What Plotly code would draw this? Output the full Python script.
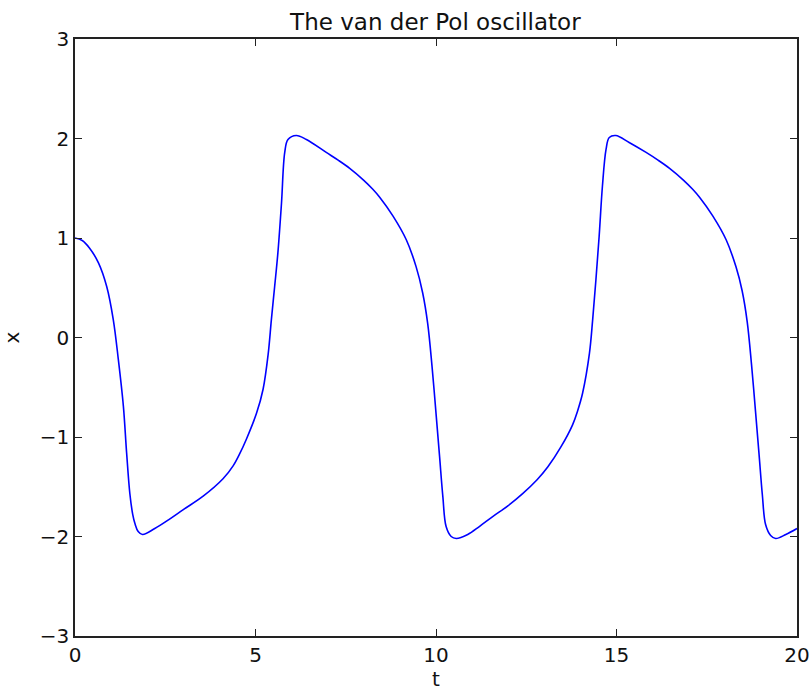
import plotly.graph_objects as go

# Values
t_vals = [0.0, 0.2, 0.4, 0.65, 0.88, 1.06, 1.20, 1.34, 1.43, 1.52, 1.60, 1.66, 1.75, 1.87,
          2.21, 2.6, 3.0, 3.55, 4.10, 4.38, 4.56, 4.75, 5.03, 5.21, 5.35, 5.44, 5.53, 5.62,
          5.72, 5.81, 5.90, 6.13, 6.41, 6.96, 7.30, 7.61, 8.0, 8.25, 8.44, 8.81, 9.18, 9.45, 9.63,
          9.77, 9.89, 10.0, 10.10, 10.19, 10.28, 10.42, 10.56, 10.88, 11.2, 11.57, 12.0, 12.4,
          12.8, 13.1, 13.46, 13.78, 13.92, 14.06, 14.25, 14.34, 14.43, 14.52, 14.61, 14.71, 14.80,
          14.98, 15.35, 15.82, 16.16, 16.47, 16.86, 17.11, 17.30, 17.67, 18.04, 18.31, 18.48,
          18.62, 18.74, 18.85, 18.95, 19.04, 19.13, 19.27, 19.41, 19.69, 20.0]
x_vals = [1.0, 0.975, 0.90, 0.75, 0.51, 0.18, -0.22, -0.69, -1.16, -1.57, -1.78, -1.87, -1.95, -1.98,
          -1.92, -1.83, -1.73, -1.595, -1.42, -1.29, -1.17, -1.02, -0.76, -0.52, -0.17, 0.18, 0.51, 0.85,
          1.35, 1.86, 1.99, 2.03, 1.99, 1.86, 1.78, 1.70, 1.58, 1.49, 1.41, 1.22, 0.98, 0.71, 0.45,
          0.14, -0.29, -0.76, -1.20, -1.60, -1.90, -2.0, -2.02, -1.98, -1.90, -1.80, -1.69, -1.57,
          -1.43, -1.30, -1.10, -0.88, -0.74, -0.56, -0.16, 0.18, 0.58, 1.02, 1.52, 1.89, 2.01,
          2.03, 1.96, 1.86, 1.78, 1.70, 1.58, 1.49, 1.41, 1.22, 0.98, 0.71, 0.47,
          0.16, -0.27, -0.74, -1.18, -1.58, -1.88, -1.99, -2.02, -1.98, -1.92]
x_ticks = [0, 5, 10, 15, 20]
y_ticks = [-3, -2, -1, 0, 1, 2, 3]
y_tick_text = ["\u22123", "\u22122", "\u22121", "0", "1", "2", "3"]

font = "DejaVu Sans"
ink = "#111111"

fig = go.Figure()
fig.add_trace(go.Scatter(x=t_vals, y=x_vals, mode="lines",
                         line=dict(color="#0000ff", width=1.6, shape="spline", smoothing=1.0),
                         showlegend=False, hoverinfo="skip"))

axis_common = dict(showgrid=False, zeroline=False, showline=True, linecolor="#222222",
                   linewidth=1.5, mirror="ticks", ticks="inside", ticklen=7, tickwidth=1,
                   tickcolor="#222222", automargin=False,
                   tickfont=dict(family=font, size=20, color=ink))

fig.update_layout(
    width=810, height=691,
    margin=dict(l=75, r=13, t=39, b=55),
    paper_bgcolor="white", plot_bgcolor="white",
    title=dict(text="The van der Pol oscillator", x=0.5375, xanchor="center",
               y=1 - 22 / 691, yanchor="middle",
               font=dict(family=font, size=23, color=ink)),
    xaxis=dict(range=[0, 20], tickvals=x_ticks, ticktext=[str(v) for v in x_ticks],
               title=dict(text="t", font=dict(family=font, size=20, color=ink)),
               **axis_common),
    yaxis=dict(range=[-3, 3], tickvals=y_ticks, ticktext=y_tick_text,
               title=dict(text="x", font=dict(family=font, size=20, color=ink)),
               **axis_common),
)

fig.write_html("out.html", config={"displayModeBar": False})
